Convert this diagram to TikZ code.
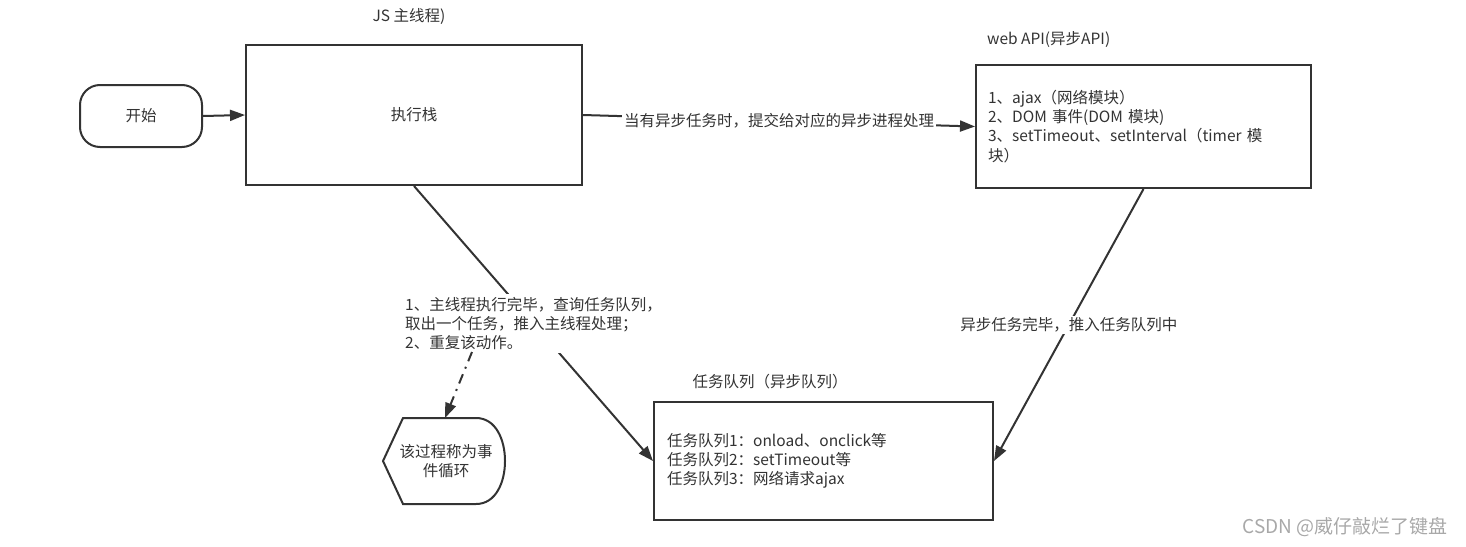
\documentclass[tikz,border=0pt]{standalone}
\usepackage{fontspec}
\setmainfont{Noto Sans CJK SC}
\usetikzlibrary{arrows.meta}
\definecolor{ink}{HTML}{333333}
\definecolor{mark}{HTML}{A8A8A8}
\tikzset{
  box/.style={draw=ink, line width=2pt, fill=white, text=ink, font=\fontsize{15.5}{19.2}\selectfont},
  lbl/.style={text=ink, font=\fontsize{15.5}{19.2}\selectfont, inner sep=1pt},
  conn/.style={draw=ink, line width=2pt, -{Triangle[length=15pt,width=11pt]}},
}
\begin{document}
\begin{tikzpicture}[x=1pt,y=-1pt]
\useasboundingbox (0,0) rectangle (1466,546);
% nodes
\node[box, rounded corners=20pt, minimum width=122pt, minimum height=62pt] (start) at (141,116) {开始};
\node[box, minimum width=336pt, minimum height=140pt] (stack) at (414,115) {执行栈};
\node[lbl] (jsmain) at (409,16) {JS 主线程)};
\node[box, minimum width=335pt, minimum height=123pt, text width=311pt, align=left, inner xsep=12pt] (webapi) at (1143.5,126.5)
  {1、ajax（网络模块）\\2、DOM 事件(DOM 模块)\\3、setTimeout、setInterval（timer 模\\块）};
\node[lbl, anchor=west] (webtitle) at (986,40) {web API(异步API)};
\node[box, minimum width=339pt, minimum height=118pt, text width=313pt, align=left, inner xsep=13pt] (queue) at (823.5,461)
  {任务队列1：onload、onclick等\\任务队列2：setTimeout等\\任务队列3：网络请求ajax};
\node[lbl] (qtitle) at (770,382) {任务队列（异步队列）};
% event loop display shape
\draw[ink, line width=2pt, fill=white]
  (403,418) -- (476,418) .. controls (496,418) and (505,440) .. (505,461)
  .. controls (505,482) and (496,504) .. (476,504) -- (403,504) -- (383,461) -- cycle;
\node[lbl, align=center] (loop) at (446,461) {该过程称为事\\件循环};
% connectors
\draw[conn] (start.east) -- (stack.west);
\draw[conn] (stack.east) -- node[lbl, fill=white, inner sep=2pt] (asynclbl) {当有异步任务时，提交给对应的异步进程处理} (webapi.west);
\draw[conn] (webapi.south) -- node[lbl, fill=white, inner sep=2pt] (donelbl) {异步任务完毕，推入任务队列中} (queue.east);
\draw[conn] (stack.south) -- node[lbl, fill=white, inner sep=3pt, align=left] (looplbl)
  {1、主线程执行完毕，查询任务队列，\\取出一个任务，推入主线程处理；\\2、重复该动作。} (queue.west);
\coordinate (dashstart) at (472,352);
\coordinate (looptop) at (445,418);
\draw[conn, dash pattern=on 10pt off 6pt on 2pt off 6pt] (dashstart) -- (looptop);
% watermark
\node[text=mark, font=\fontsize{19}{22}\selectfont, inner sep=0pt] (wm) at (1345,527) {CSDN @威仔敲烂了键盘};
\end{tikzpicture}
\end{document}
